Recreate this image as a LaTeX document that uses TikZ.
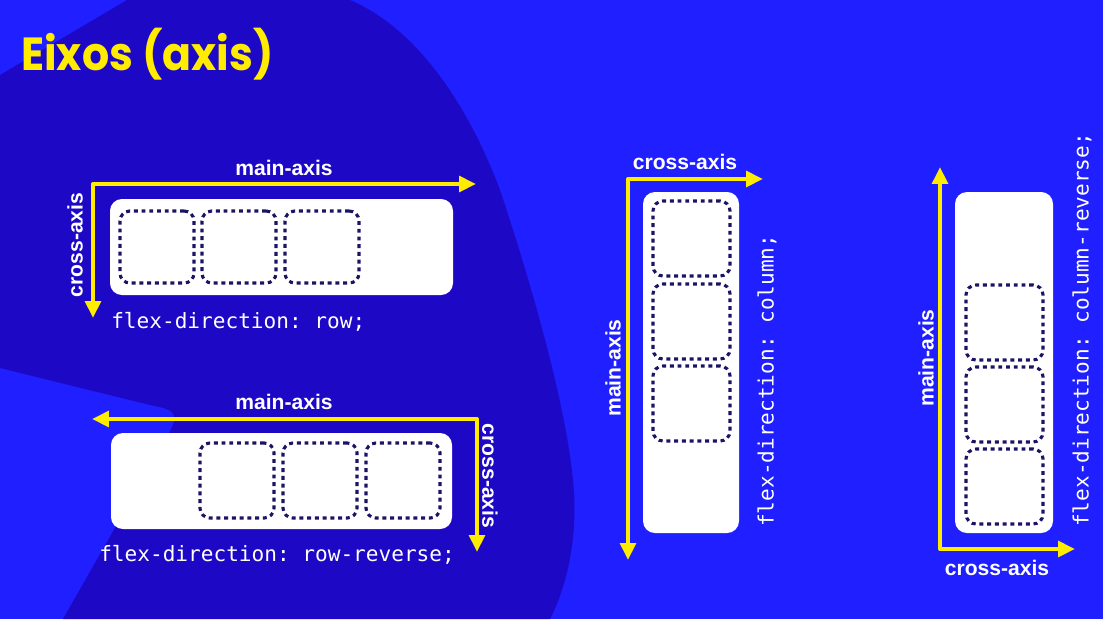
\documentclass[tikz,border=0pt]{standalone}
\usepackage{fontspec}
\setmainfont{Liberation Sans}
\setmonofont{DejaVu Sans Mono}
\newfontfamily\titlefont[FakeStretch=0.92]{Poppins}
\usetikzlibrary{arrows.meta,fit}
\definecolor{lightbg}{RGB}{31,31,255}
\definecolor{darkblob}{RGB}{29,8,198}
\definecolor{axisyellow}{RGB}{255,236,0}
\definecolor{dotnavy}{RGB}{27,20,100}
\begin{document}
\begin{tikzpicture}[x=0.025cm,y=-0.025cm,line join = round,>={Triangle[length=12pt,width=11pt]},
	axis/.style={draw=axisyellow,line width=2.8pt,<->},
	axislabel/.style={text=white,font=\bfseries\fontsize{15}{18}\selectfont,inner sep=0pt},
	flexbox/.style={fill=white,rounded corners=8.5pt,inner sep=0pt},
	item/.style={draw=dotnavy,line width=2.2pt,dash pattern=on 2.8pt off 2.7pt,rounded corners=7pt,inner sep=0pt},
	code/.style={text=white,font=\ttfamily\fontsize{15}{18}\selectfont,inner sep=0pt},
	title/.style={text=axisyellow,font=\titlefont\bfseries\fontsize{33}{38}\selectfont,inner sep=0pt}]
			\def\pw{1103};
			\def\ph{619};
			\useasboundingbox (0,0) rectangle (\pw,\ph);
			\fill[lightbg] (0,0) rectangle (\pw,\ph);
			\fill[darkblob] (127,0) -- (350,0) .. controls (420,30) and (470,110) .. (500,190)
				.. controls (530,280) and (565,400) .. (573,480) .. controls (580,550) and (560,600) .. (550,\ph)
				-- (63,\ph) -- (165,440) .. controls (182,412) and (175,410) .. (150,405) -- (0,368) -- (0,75) -- cycle;
			\node[title,anchor=base west] (title) at (21,70) {Eixos (axis)};
			% flex-direction: row
			\coordinate (rowc) at (93,184);
			\coordinate (rowmain) at (476,184);
			\coordinate (rowcross) at (93,318);
			\draw[axis] (rowmain) -- (rowc) -- (rowcross);
			\node[axislabel] (rowmainlbl) at (284,168) {main-axis};
			\node[axislabel,rotate=90] (rowcrosslbl) at (75,245) {cross-axis};
			\node[flexbox,fit={(110,199) (453,295)}] (rowbox) {};
			\foreach \i/\x in {1/120,2/202,3/285}
				\node[item,fit={(\x,211) (\x+74,283)}] (row\i) {};
			\node[code,anchor=west] (rowcode) at (111,322) {flex-direction: row;};
			% flex-direction: row-reverse
			\coordinate (revc) at (477,419);
			\coordinate (revmain) at (92,419);
			\coordinate (revcross) at (477,552);
			\draw[axis] (revmain) -- (revc) -- (revcross);
			\node[axislabel] (revmainlbl) at (284,402) {main-axis};
			\node[axislabel,rotate=-90] (revcrosslbl) at (490,476) {cross-axis};
			\node[flexbox,fit={(111,433) (452,529)}] (revbox) {};
			\foreach \i/\x in {1/366,2/283,3/200}
				\node[item,fit={(\x,443) (\x+74,518)}] (rev\i) {};
			\node[code,anchor=west] (revcode) at (99,555) {flex-direction: row-reverse;};
			% flex-direction: column
			\coordinate (colc) at (628,179);
			\coordinate (colcross) at (763,179);
			\coordinate (colmain) at (628,560);
			\draw[axis] (colcross) -- (colc) -- (colmain);
			\node[axislabel] (colcrosslbl) at (685,162) {cross-axis};
			\node[axislabel,rotate=90] (colmainlbl) at (613,368) {main-axis};
			\node[flexbox,fit={(643,192) (739,533)}] (colbox) {};
			\foreach \i/\y in {1/201,2/284,3/366}
				\node[item,fit={(653,\y) (730,\y+75)}] (col\i) {};
			\node[code,rotate=90,anchor=west] (colcode) at (767,527) {flex-direction: column;};
			% flex-direction: column-reverse
			\coordinate (crevc) at (940,549);
			\coordinate (crevmain) at (940,167);
			\coordinate (crevcross) at (1075,549);
			\draw[axis] (crevmain) -- (crevc) -- (crevcross);
			\node[axislabel,rotate=90] (crevmainlbl) at (926,358) {main-axis};
			\node[axislabel] (crevcrosslbl) at (997,568) {cross-axis};
			\node[flexbox,fit={(955,192) (1053,533)}] (crevbox) {};
			\foreach \i/\y in {1/449,2/367,3/285}
				\node[item,fit={(966,\y) (1043,\y+75)}] (crev\i) {};
			\node[code,rotate=90,anchor=west] (crevcode) at (1082,527) {flex-direction: column-reverse;};
		\end{tikzpicture}
\end{document}
